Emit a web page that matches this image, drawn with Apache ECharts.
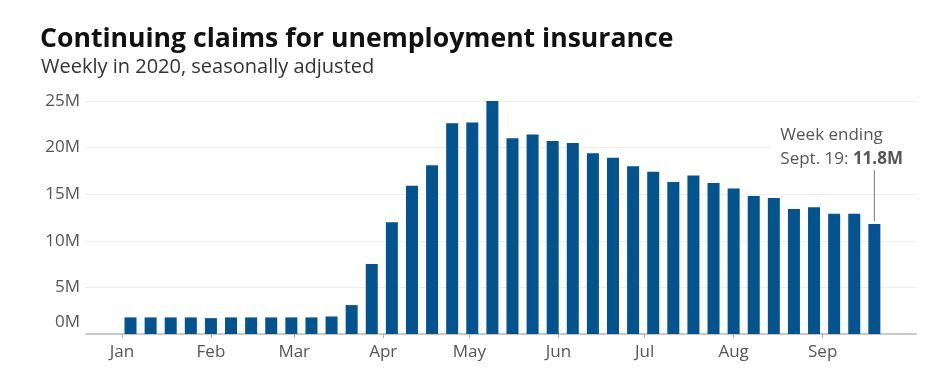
<!DOCTYPE html>
<html>
<head>
<meta charset="utf-8">
<script src="https://cdn.jsdelivr.net/npm/echarts@6/dist/echarts.min.js"></script>
<style>
html,body{margin:0;padding:0;background:#fff;}
#chart{width:936px;height:385px;}
</style>
</head>
<body>
<div id="chart"></div>
<script>
// Week-ending dates (2020)
const weekEnding = [
  '2020-01-04','2020-01-11','2020-01-18','2020-01-25','2020-02-01','2020-02-08','2020-02-15',
  '2020-02-22','2020-02-29','2020-03-07','2020-03-14','2020-03-21','2020-03-28','2020-04-04',
  '2020-04-11','2020-04-18','2020-04-25','2020-05-02','2020-05-09','2020-05-16','2020-05-23',
  '2020-05-30','2020-06-06','2020-06-13','2020-06-20','2020-06-27','2020-07-04','2020-07-11',
  '2020-07-18','2020-07-25','2020-08-01','2020-08-08','2020-08-15','2020-08-22','2020-08-29',
  '2020-09-05','2020-09-12','2020-09-19'
];
// Continuing claims, millions
const claims = [
  1.78, 1.78, 1.78, 1.78, 1.70, 1.78, 1.78,
  1.78, 1.78, 1.78, 1.88, 3.10, 7.50, 12.0,
  15.9, 18.1, 22.6, 22.7, 25.0, 21.0, 21.4,
  20.7, 20.5, 19.4, 18.9, 18.0, 17.4, 16.3,
  17.0, 16.2, 15.6, 14.8, 14.6, 13.4, 13.6,
  12.9, 12.9, 11.8
];
// x tick labels (month starts, 2020)
const monthLabels = ['Jan','Feb','Mar','Apr','May','Jun','Jul','Aug','Sep'];
const yTicks = [0, 5, 10, 15, 20, 25];
const axisStart = '2019-12-20';
const axisEnd = '2020-10-03';
const titleText = 'Continuing claims for unemployment insurance';
const subtitleText = 'Weekly in 2020, seasonally adjusted';
const noteLine1 = 'Week ending';
const noteLine2a = 'Sept. 19: ';
const noteLine2b = '11.8M';

const FONT = 'Open Sans';

// daily categories along the x axis
const days = [];
for (let t = Date.parse(axisStart + 'T00:00:00Z'); t <= Date.parse(axisEnd + 'T00:00:00Z'); t += 86400000) {
  days.push(new Date(t).toISOString().slice(0, 10));
}
const isMonthTick = (idx, val) => val.slice(0, 4) === '2020' && val.slice(8) === '01' &&
  (+val.slice(5, 7)) <= monthLabels.length;

const chart = echarts.init(document.getElementById('chart'));
const data = weekEnding.map((d, i) => [d, claims[i]]);

chart.setOption({
  animation: false,
  backgroundColor: '#fff',
  title: [
    {
      text: titleText,
      left: 40,
      top: 26,
      padding: 0,
      textStyle: {fontFamily: FONT, fontWeight: 'bold', fontSize: 26.6, color: '#111'}
    },
    {
      text: subtitleText,
      left: 41,
      top: 57,
      padding: 0,
      textStyle: {fontFamily: FONT, fontWeight: 'normal', fontSize: 20, color: '#333'}
    }
  ],
  grid: {left: 86, right: 20, top: 101, bottom: 51, containLabel: false},
  xAxis: {
    type: 'category',
    data: days,
    boundaryGap: true,
    axisLine: {lineStyle: {color: '#bbb', width: 1.5}},
    axisTick: {show: true, length: 4, alignWithLabel: true, interval: isMonthTick, lineStyle: {color: '#aaa'}},
    splitLine: {show: false},
    axisLabel: {
      fontFamily: FONT, fontSize: 17, color: '#555', margin: 10,
      interval: isMonthTick,
      formatter: v => monthLabels[+v.slice(5, 7) - 1] || ''
    }
  },
  yAxis: {
    type: 'value',
    min: yTicks[0],
    max: yTicks[yTicks.length - 1],
    interval: 5,
    axisLine: {show: false},
    axisTick: {show: false},
    splitLine: {lineStyle: {color: '#eee', width: 1}},
    axisLabel: {
      fontFamily: FONT, fontSize: 17, color: '#555', margin: 6,
      formatter: v => v === 0 ? '{z|0M}' : v + 'M',
      rich: {z: {fontFamily: FONT, fontSize: 17, color: '#555', padding: [0, 0, 24, 0]}}
    }
  },
  series: [{
    type: 'bar',
    data: data,
    barWidth: 12,
    itemStyle: {color: '#03538f'},
    z: 3
  }]
});

// Annotation anchored to last bar
const last = data[data.length - 1];
const pTop = chart.convertToPixel({gridIndex: 0}, last);
chart.setOption({
  graphic: [
    {
      type: 'rect', z: 10,
      shape: {x: pTop[0] - 102, y: pTop[1] - 104, width: 150, height: 54},
      style: {fill: '#fff'}
    },
    {
      type: 'text', z: 11,
      x: pTop[0] - 94, y: pTop[1] - 77,
      style: {
        text: noteLine1 + '\n' + '{a|' + noteLine2a + '}{b|' + noteLine2b + '}',
        fontFamily: FONT, fontSize: 17, fill: '#555', lineHeight: 24,
        verticalAlign: 'middle',
        rich: {
          a: {fontFamily: FONT, fontSize: 17, color: '#555', lineHeight: 24},
          b: {fontFamily: FONT, fontSize: 17, fontWeight: 'bold', color: '#333', lineHeight: 24}
        }
      }
    },
    {
      type: 'line', z: 11,
      shape: {x1: pTop[0], y1: pTop[1] - 54, x2: pTop[0], y2: pTop[1] - 3},
      style: {stroke: '#777', lineWidth: 1}
    }
  ]
});
</script>
</body>
</html>
